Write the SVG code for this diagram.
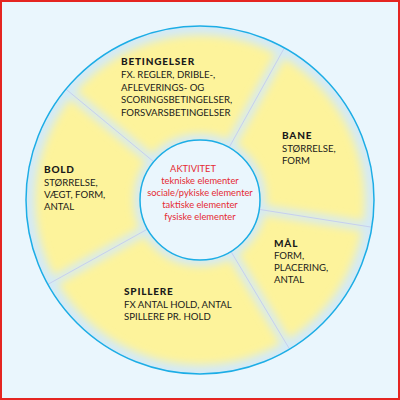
<svg xmlns="http://www.w3.org/2000/svg" width="400" height="400" viewBox="0 0 400 400">
  <style>
    .h { font-family: Lato, "Open Sans", "Liberation Sans", sans-serif; font-size: 10px; font-weight: 900; fill: #1a1a1a; letter-spacing: 0.8px; }
    .t { font-family: Lato, "Open Sans", "Liberation Sans", sans-serif; font-size: 9.6px; fill: #1a1a1a; }
    .r { font-family: Lato, "Open Sans", "Liberation Sans", sans-serif; font-size: 9.3px; fill: #e52a33; text-anchor: middle; }
    .div { stroke: #c6cfee; stroke-width: 1; }
    .fade { stroke: #d3eaf8; fill: none; }
  </style>
  <defs>
    <clipPath id="ring">
      <path clip-rule="evenodd" d="M26,200 a174,174 0 1,0 348,0 a174,174 0 1,0 -348,0 Z M140,200 a60,60 0 1,0 120,0 a60,60 0 1,0 -120,0 Z"/>
    </clipPath>
    <filter id="blur" x="-20%" y="-20%" width="140%" height="140%">
      <feGaussianBlur stdDeviation="4.5"/>
    </filter>
  </defs>

  <rect x="1" y="1" width="398" height="398" fill="#eaf6fd" stroke="#e52521" stroke-width="2"/>

  <g id="ring-bg">
    <path fill="#fdf39b" fill-rule="evenodd" d="M26,200 a174,174 0 1,0 348,0 a174,174 0 1,0 -348,0 Z M140,200 a60,60 0 1,0 120,0 a60,60 0 1,0 -120,0 Z"/>
    <g clip-path="url(#ring)">
      <g filter="url(#blur)">
        <circle class="fade" cx="200" cy="200" r="174" stroke-width="18"/>
        <circle class="fade" cx="200" cy="200" r="60" stroke-width="12"/>
        <g class="fade" stroke-width="9">
          <line x1="153.8" y1="161.8" x2="65.9" y2="89.1"/>
          <line x1="229.1" y1="147.5" x2="284.4" y2="47.8"/>
          <line x1="259.3" y1="209.4" x2="371.9" y2="227.2"/>
          <line x1="230.9" y1="251.4" x2="289.6" y2="349.2"/>
          <line x1="147.5" y1="229.1" x2="47.8" y2="284.4"/>
        </g>
      </g>
    </g>
  </g>

  <g id="connectors" clip-path="url(#ring)">
    <line class="div" x1="153.8" y1="161.8" x2="65.9" y2="89.1"/>
    <line class="div" x1="229.1" y1="147.5" x2="284.4" y2="47.8"/>
    <line class="div" x1="259.3" y1="209.4" x2="371.9" y2="227.2"/>
    <line class="div" x1="230.9" y1="251.4" x2="289.6" y2="349.2"/>
    <line class="div" x1="147.5" y1="229.1" x2="47.8" y2="284.4"/>
  </g>

  <g id="outline" fill="none" stroke="#1cade6" stroke-width="1.5">
    <circle cx="200" cy="200" r="174"/>
  </g>

  <g id="center">
    <circle cx="200" cy="200" r="60" fill="#eaf6fd" stroke="#1cade6" stroke-width="1.5"/>
    <text class="r" x="193" y="172">AKTIVITET</text>
    <text class="r" x="200" y="184">tekniske elementer</text>
    <text class="r" x="200" y="196">sociale/pykiske elementer</text>
    <text class="r" x="200" y="208">taktiske elementer</text>
    <text class="r" x="200" y="220">fysiske elementer</text>
  </g>

  <g id="betingelser">
    <text class="h" x="121" y="65.3">BETINGELSER</text>
    <text class="t" x="121" y="78">FX. REGLER, DRIBLE-,</text>
    <text class="t" x="121" y="90.5">AFLEVERINGS- OG</text>
    <text class="t" x="121" y="103">SCORINGSBETINGELSER,</text>
    <text class="t" x="121" y="115.5">FORSVARSBETINGELSER</text>
  </g>

  <g id="bane">
    <text class="h" x="282" y="139">BANE</text>
    <text class="t" x="282" y="151.5">STØRRELSE,</text>
    <text class="t" x="282" y="164">FORM</text>
  </g>

  <g id="bold">
    <text class="h" x="44" y="173">BOLD</text>
    <text class="t" x="44" y="185.5">STØRRELSE,</text>
    <text class="t" x="44" y="197.5">VÆGT, FORM,</text>
    <text class="t" x="44" y="209.5">ANTAL</text>
  </g>

  <g id="maal">
    <text class="h" x="274" y="247">MÅL</text>
    <text class="t" x="274" y="259">FORM,</text>
    <text class="t" x="274" y="271">PLACERING,</text>
    <text class="t" x="274" y="283">ANTAL</text>
  </g>

  <g id="spillere">
    <text class="h" x="124" y="295">SPILLERE</text>
    <text class="t" x="124" y="308">FX ANTAL HOLD, ANTAL</text>
    <text class="t" x="124" y="320">SPILLERE PR. HOLD</text>
  </g>
</svg>
